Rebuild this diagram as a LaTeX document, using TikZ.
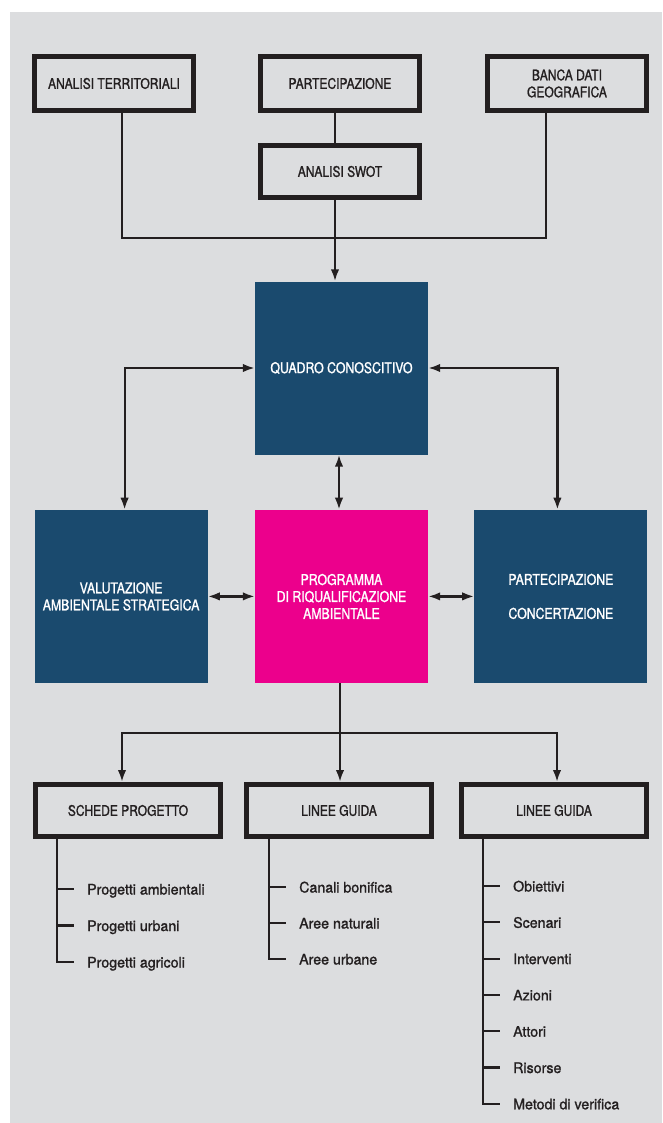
\documentclass[tikz,border=0pt]{standalone}
\usepackage{fontspec}
\newfontfamily\headfont[FakeStretch=0.83, FakeBold=1.2]{TeX Gyre Heros}
\newfontfamily\itemfont[FakeStretch=0.98, FakeBold=1.2]{TeX Gyre Heros}
\usetikzlibrary{shapes, arrows.meta, positioning}
\definecolor{bggray}{HTML}{DCDDDF}
\definecolor{ink}{HTML}{231F20}
\definecolor{navy}{HTML}{1A4A6E}
\definecolor{fuchsia}{HTML}{EC008C}

\begin{document}
\begin{tikzpicture}[x=1pt, y=-1pt, >={Latex[length=12pt,width=8.5pt]},
    framebox/.style={draw=ink, line width=5pt, fill=bggray, text=ink, align=center,
      minimum width=159pt, minimum height=54pt, inner sep=2pt,
      font=\headfont\fontsize{14.5pt}{17pt}\selectfont},
    colbox/.style={fill=navy, text=white, align=center, minimum size=173pt, inner sep=2pt,
      font=\headfont\fontsize{14.8pt}{17pt}\selectfont},
    wire/.style={draw=ink, line width=2.2pt},
    leaf/.style={anchor=west, text=ink, inner sep=0pt, text height=11pt, text depth=0pt,
      font=\itemfont\fontsize{14.5pt}{17pt}\selectfont}]
        % Draw the background
        \useasboundingbox (0,0) rectangle (662,1123);
        \fill[bggray] (10,12) rectangle (662,1123);

        % Draw the input blocks
        \node (territ)  [framebox] at (114,83.5) {ANALISI TERRITORIALI};
        \node (partec)  [framebox, right=62pt of territ] {PARTECIPAZIONE};
        \node (banca)   [framebox, right=63pt of partec] {BANCA DATI\\GEOGRAFICA};
        \node (swot)    [framebox, minimum height=52pt, below=30pt of partec] {ANALISI SWOT};

        % Draw the central blocks
        \node (quadro)  [colbox] at (341.5,368) {QUADRO CONOSCITIVO};
        \node (prog)    [colbox, fill=fuchsia, below=55pt of quadro] {PROGRAMMA\\DI RIQUALIFICAZIONE\\AMBIENTALE};
        \node (vas)     [colbox, left=47pt of prog] {VALUTAZIONE\\AMBIENTALE STRATEGICA};
        \node (concert) [colbox, right=46pt of prog] {PARTECIPAZIONE\\[17pt]CONCERTAZIONE};

        % Draw the output blocks
        \node (schede)  [framebox, minimum width=185pt, minimum height=52pt] at (128,810.5) {SCHEDE PROGETTO};
        \node (linee)   [framebox, minimum width=185pt, minimum height=52pt, right=21pt of schede] {LINEE GUIDA};
        \node (guida)   [framebox, minimum width=185pt, minimum height=52pt, right=25pt of linee] {LINEE GUIDA};

        % Draw the connecting lines
        \coordinate (join) at (335,238);
        \coordinate (fork) at (340,733);
        \draw [wire] ([xshift=8pt]territ.south) |- (join) -| ([xshift=-21pt]banca.south);
        \draw [wire] (partec.south -| join) -- (swot.north -| join);
        \draw [wire, ->] (swot.south -| join) -- (quadro.north -| join);
        \draw [wire, <->] (quadro.west) -| ([xshift=3.5pt]vas.north);
        \draw [wire, <->] (quadro.east) -| ([xshift=-3.5pt]concert.north);
        \draw [wire, <->] ([xshift=-2.5pt]quadro.south) -- ([xshift=-2.5pt]prog.north);
        \draw [wire, <->] (vas) -- (prog);
        \draw [wire, <->] (prog) -- (concert);
        \draw [wire, ->] (prog.south -| fork) -- (linee.north -| fork);
        \draw [wire, ->] (fork) -| ([xshift=-6pt]schede.north);
        \draw [wire, ->] (fork) -| ([xshift=3pt]guida.north);

        % Add the lists under the output blocks
        \foreach \txt [count=\i] in {Progetti ambientali, Progetti urbani, Progetti agricoli}
          \node (s\i) [leaf] at ([xshift=-41pt, yshift={-50pt-36.5pt*(\i-1)}]schede.south) {\txt};
        \foreach \txt [count=\i] in {Canali bonifica, Aree naturali, Aree urbane}
          \node (l\i) [leaf] at ([xshift=-40pt, yshift={-48pt-36pt*(\i-1)}]linee.south) {\txt};
        \foreach \txt [count=\i] in {Obiettivi, Scenari, Interventi, Azioni, Attori, Risorse, Metodi di verifica}
          \node (g\i) [leaf] at ([xshift=-41pt, yshift={-47pt-36.3pt*(\i-1)}]guida.south) {\txt};

        \draw [wire] ([xshift=-71pt]schede.south) |- ([xshift=-13pt]s3.west);
        \draw [wire] ([xshift=-70pt]linee.south) |- ([xshift=-13pt]l3.west);
        \draw [wire] ([xshift=-71pt]guida.south) |- ([xshift=-13pt]g7.west);
        \foreach \i in {1,2}
          \draw [wire] ([xshift=-30pt]s\i.west) -- ([xshift=-13pt]s\i.west);
        \foreach \i in {1,2}
          \draw [wire] ([xshift=-30pt]l\i.west) -- ([xshift=-13pt]l\i.west);
        \foreach \i in {1,...,6}
          \draw [wire] ([xshift=-30pt]g\i.west) -- ([xshift=-13pt]g\i.west);
    \end{tikzpicture}
\end{document}
